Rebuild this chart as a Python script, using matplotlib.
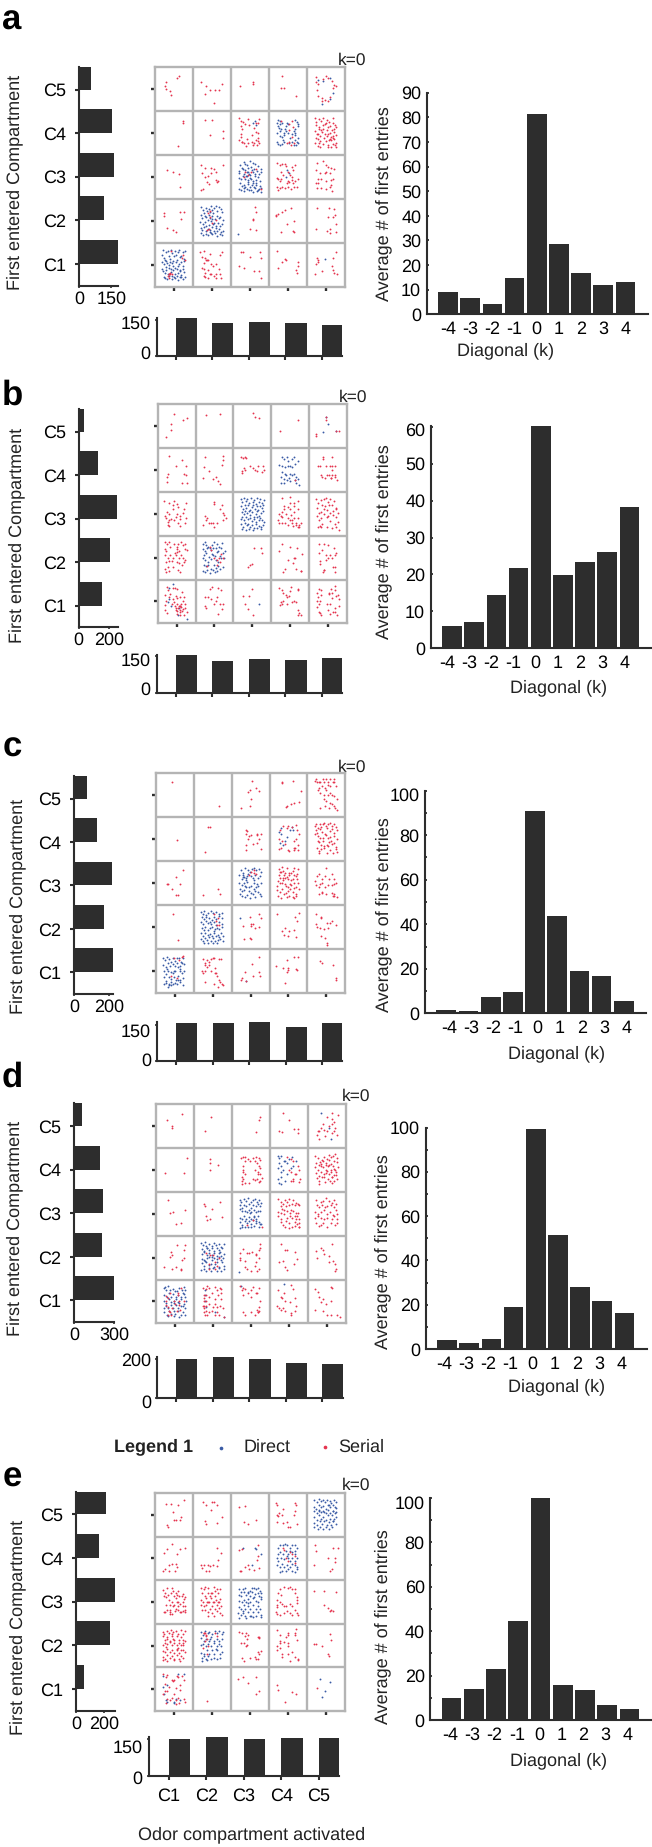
"""Five-panel first-entry figure: row totals, 5x5 entry matrix, column totals, diagonal histogram."""
import matplotlib
matplotlib.use("Agg")
import matplotlib.pyplot as plt
from matplotlib.transforms import ScaledTranslation

plt.rcParams["font.family"] = ["Liberation Sans", "DejaVu Sans"]
plt.rcParams["font.size"] = 13
plt.rcParams["text.hinting"] = "no_hinting"

DARK = "#2d2d2d"
GRID = "#b4b4b4"
RED = "#e5344f"
BLUE = "#3a5ba5"

COMPARTMENTS = ["C1", "C2", "C3", "C4", "C5"]
DIAGONALS = [-4, -3, -2, -1, 0, 1, 2, 3, 4]

# row totals, C1 to C5
ROW_A = [183, 117, 164, 153, 56]
ROW_B = [155, 207, 252, 124, 33]
ROW_C = [221, 171, 219, 133, 76]
ROW_D = [298, 212, 218, 198, 62]
ROW_E = [60, 243, 279, 162, 214]

# column totals, C1 to C5
COL_A = [155, 135, 141, 136, 128]
COL_B = [155, 132, 140, 133, 143]
COL_C = [157, 157, 163, 143, 158]
COL_D = [197, 207, 197, 179, 175]
COL_E = [150, 158, 147, 151, 151]

# average first entries per diagonal
DIAG_A = [9.2, 6.8, 4.3, 14.9, 81.2, 28.6, 16.6, 11.8, 13.3]
DIAG_B = [6.0, 7.1, 14.4, 21.7, 60.2, 19.9, 23.5, 26.2, 38.2]
DIAG_C = [1.3, 1.2, 7.2, 9.7, 90.9, 43.9, 19.2, 16.9, 5.5]
DIAG_D = [4.1, 2.7, 4.5, 18.8, 99.2, 51.3, 28.0, 21.7, 16.2]
DIAG_E = [10.0, 14.1, 22.9, 44.5, 100.0, 15.6, 13.4, 6.6, 5.1]

# matrix points: rows C5 to C1, columns C1 to C5; each code is xxyy in percent of the cell
A_SERIAL = [
    ["6380 5876 2966 2657 2749 3845 4236", "2166 3556 4548 5747 6947 7761 3039 5519", "2356 5766 5761", "3479 3252 3952 7134",
     "2378 5180 5674 6668 7160 7657 3062 2848 3035 4122 4824 5522 6132 7052 2465 4472 4030"],
    ["7277 7473 5920", "3080 5080 4546 8039 8054",
     "2283 2677 3174 3771 4481 2566 3058 2541 2233 2547 3029 4021 4526 5529 6127 6533 7031 7527 7039 6551 7049 6061 5546 6572 7382 7073 4869 3526 2829 5823 6823 4236",
     "3277 5470 6176 6463 5456 6040 5330 4726 6528 5722",
     "2183 2474 3381 3776 4483 4771 5379 5874 2368 3163 3757 4469 5173 6266 7083 7469 2154 2747 3642 4151 5357 5763 6249 6944 7259 7846 2538 2936 3531 4639 5243 5834 6441 7136 7628 2226 2921 3419 4324 5131 5723 6333 6924 7422 7819 6656 7351 4358 5648 6972 7763 3358 4947 6037 7038 3127 5519 6418 3048"],
    ["3066 4660 6256 6427", "2076 3070 4770 5568 5960 7876 2458 3050 4052 4858 6042 3638 4234 6338 6640 2021 2722",
     "3862 4555 5262 6568 3350 7822",
     "2082 2878 3480 4280 4474 5060 6072 6466 7076 3262 3654 2248 2544 2840 3346 4836 5040 5438 6042 6435 7040 7644 2228 3025 3428 4225 5028 5822 6628 7426 2420 6250 5655",
     "2882 4486 5076 5672 6470 2566 3658 5060 6258 7268 3046 2535 3035 5040 6442 7045 2825 3825 5022 6228 6718 6432 4858 3844"],
    ["2467 2461 6471 7570 6954 3034 4830 5425", "4472 4068 4558 5045 6052 4232 3628", "6481 6571 5755 5952 4932 6530",
     "1863 2565 3470 4375 5980 6650 4743 3125 6426 6624 1960", "2780 5880 7276 7463 6859 5559 2532 7843 7825 6022 5426 6232"],
    ["3530 3832 4028 3325 4328 3728 3620 7860 4282 7272 7065",
     "1980 2882 4474 7072 7580 2268 3065 3660 4060 2855 3560 4652 5248 6052 2242 2840 4038 4428 4830 6030 6840 7030 7420 3032 3820 2825 3022 5625 6020",
     "2680 3179 5168 7679 8066 2146 3442 6135 7535 8020", "2082 4364 3456 4660 7656 7648 2442 7331 7139",
     "2766 2956 2552 6966 7880 6748 6939 7131 8029 4136 2229 3060"],
]
A_DIRECT = [
    ["", "", "", "", "3070 4368 6275 7040 6028 4116"],
    ["", "", "5972 6378 6667",
     "2480 2876 2172 3070 2565 3360 2855 2250 2844 3440 4050 4555 4360 4950 3945 2525 2230 2822 3525 4030 3833 6880 7575 7866 6860 6048 6755 7050 7738 7828 7222 6722 7530 6835 5538 5328 4872 5070 4565 3573 2662 7045 7870 6030", ""],
    ["", "",
     "2477 3169 3584 4176 4471 4986 5273 5781 6169 6479 7274 7868 2063 2259 2971 3357 3866 4362 4757 5566 5961 6457 6963 7557 7961 2148 2744 3151 3646 4153 4639 5246 5841 6252 6743 7149 7741 2336 2829 3432 3827 4434 4926 5631 6027 6536 7121 7629 8024 2222 2619 3517 4223 4719 5321 5916 6324 6818 7322 7816 3779 4561 5155 5048 3952 4443 5736 6631 3325",
     "4765 5258 4550", ""],
    ["",
     "2081 2574 2968 3379 3772 4277 4683 5174 5579 5983 6472 6881 7376 7769 2164 2457 3162 3558 4163 4456 4961 5367 5853 6361 6756 7258 7851 1947 2643 3048 3439 3852 4341 4749 5243 5646 6138 6544 7139 7642 2133 2429 2935 3326 3931 4424 4936 5427 6033 6426 6931 7324 7827 2023 2718 3321 4017 4622 5119 5823 6416 7121 7617 4570 5055 4528",
     "1920", "", ""],
    ["1972 2183 2466 2778 2959 3381 3671 3963 4184 4476 4658 4969 5282 5473 5761 6078 6384 6567 6871 7279 7663 7882 1857 2251 2561 2844 3153 3549 3857 4241 4553 4847 5143 5556 5948 6252 6639 6956 7347 7759 1941 2136 2532 2939 3329 3743 4133 4424 4837 5228 5641 6031 6436 6827 7241 7634 7921 2223 2619 3217 3725 4418 4922 5319 5724 6116 6521 6923 7418",
     "", "", "", "4862"],
]

B_SERIAL = [
    ["4277 7768 6865 3656 3442 2325", "2776 6478", "5380 5870 6969", "7065 2440", "4465 2033 1927 7240 8040 4470"],
    ["3081 6373 7460 4859 2740 2435 7040 7438 2423 6421 7721", "2479 7281 7473 2256 7061 1932 3647 4530 5535 6419 5924",
     "2180 2578 3080 3378 2448 2854 3150 2244 4360 5255 5850 6660 7858 8050 7645 6448", "6428",
     "3680 3775 6280 3058 2358 4660 5760 6258 7060 6050 3238 3535 4232 4838 5238 5932 6038 6838 7528 7035 5832"],
    ["1680 3175 4070 4480 5072 5565 7475 7062 2455 3050 4062 5250 6045 6852 2240 3035 4235 4842 6038 7440 7228 3022 2825 1845 5528 6022 2832 3538",
     "4878 5072 7070 6562 2545 3040 2735 7452 7648 8240 7436 3530 4530 4030 5020 5830 2025", "",
     "2885 5088 6075 7080 5075 3568 4565 5060 6068 7260 3055 3560 4050 2150 2545 1935 2030 2830 3830 4540 5035 5535 6040 6530 7240 7830 7525 5530 5822 6525 7020 7520 4525 2842 6055 5248",
     "2083 2474 3281 3569 2263 4183 4486 5176 5684 6271 6779 7164 3254 3961 4367 4958 5371 7261 7851 2144 2736 3341 4149 4943 5652 6447 7243 7831 3023 2519 3427 4921 5733 6826 7321 8014 6217 3219 2852 5144 6356"],
    ["1885 2480 3085 3375 1870 2365 4280 5275 5580 6285 6878 7282 5070 5765 4560 5062 7370 7868 2055 2750 3255 4050 4855 5750 6255 2240 3042 3842 5040 7245 2025 2828 3020 5322 6018 4028 2218 7040 6532 6850 5738",
     "3875 4268 4950 5645 6250 6858 7250 6440 5832 3030", "5573 7473 7660 5035 3929 4334",
     "2980 5074 6973 8358 2265 4645 6450 5938 3118 3625 6525 7820 8020 6050",
     "2880 4180 5078 6672 7360 3568 4655 2760 5555 7055 3042 4545 5048 3035 3818 4022 6528 7018 4022 7028 6248"],
    ["2482 2875 4080 4680 5278 6572 7060 2065 3060 3268 4055 4862 5258 5860 6652 7245 2042 2250 3845 4248 4640 5245 5840 6238 6832 7235 7825 4830 5228 5825 6428 7020 2030 5022 5818 2424 6040 6245 5435 5640 6030 4835",
     "3878 4482 6080 6875 2460 3361 4055 5450 5660 2540 2935 4845 6545 7032 7245 6022", "2663 4163 5079 3144 4033 5120",
     "2180 2975 3170 3965 4260 5174 5282 7078 7075 4862 3152 2342 2548 3045 4345 6050 5548 7030 7523 7218 8018 6548",
     "2878 2270 3175 3165 2560 2252 3050 2845 2238 2625 2923 3318 4845 5268 5270 5878 6058 5545 6270 7075 7665 8055 7262 7085 6835 6425 7025 7518 8040 5030 5522"],
]
B_DIRECT = [
    ["", "", "", "", "4470 5154 3836 7340"],
    ["", "", "",
     "2880 3574 4180 4670 5574 6080 7170 2262 3060 3656 4460 5060 5656 6264 2845 3640 2635 3330 4038 4732 5040 5538 6042 6535 7030 2620 3420 4228 5026 6228 6720 7515", ""],
    ["", "",
     "2084 2477 2986 3379 3683 4274 4687 5176 5482 5973 6385 6778 7183 7674 8081 2168 2562 3071 3463 3969 4458 4966 5371 5761 6267 6659 7068 7563 7971 2254 2749 3157 3551 4156 4547 5054 5643 6149 6457 6946 7452 7856 2039 2443 2936 3342 3837 4441 4934 5439 5931 6343 6735 7141 7636 8032 2127 2621 3129 3524 4027 4519 5025 5518 6126 6417 6923 7419 7825 2316 3314 4215 5314 7215",
     "", ""],
    ["",
     "1982 2486 2879 3374 3871 4478 5085 5681 6274 7083 2169 2664 3173 4067 4771 5473 5964 6772 7766 2357 2961 3751 4359 5154 5762 6453 7261 2048 2644 3341 4046 4756 5444 6041 6849 7548 2233 2831 3433 4124 4833 5426 6031 6624 7229 1919 2516 3121 3814 4521 5117 5819",
     "", "", ""],
    ["3080 4090 3055 2848 3540 5635 5418 7810", "", "6943", "", ""],
]

C_SERIAL = [
    ["4180", "6525", "5481 4860 4456 6366 7258 5240 4924 2520", "3378 3376 6281 8359 4525 4322 5630 6632 7733",
     "2082 2578 2485 3080 3578 4185 4580 5085 5580 6085 6878 7285 7078 7670 3065 4070 4665 5060 5572 6070 2860 3555 4550 5550 6055 6650 7248 7840 4540 5035 6032 6628 7025 7420 7815 4825 3520 5820"],
    ["5648", "3677 4276 2921", "3970 4167 3862 4450 6860 7862 6658 7350 3935 6640 7826 3724 5538 5058 4656",
     "2770 3580 4575 5080 6078 7082 7470 7860 7050 6545 7536 6830 6530 7525 2650 3345 4038 3030 2528 4825 5222 6525",
     "2079 2483 2975 3384 3778 4183 4586 5079 5584 6086 6579 7183 7777 2271 2664 3473 3966 4862 5274 5968 6573 7264 7871 2061 2956 3453 4152 4958 5451 6054 7156 7849 3043 3637 4433 5236 5842 6539 7141 7631 2529 3123 3726 4429 5117 6024 6819 7526 7821 3018 5534 4146 6346 2845"],
    ["2847 3247 7179 5263 6347 4137 5223 5823", "2323 6437 6924", "5275 4568 6080 6570 6072",
     "2481 2976 3386 3678 4583 5273 6177 6484 7581 2567 3174 3662 4172 4664 5269 5873 6569 7471 2254 2861 3557 4261 4959 5656 6259 7166 7549 2044 2749 3351 4148 4443 5041 5846 6449 7041 7837 2134 2829 3436 4427 4933 5536 6229 6926 7121 2321 3016 3824 4519 5221 6119 6516 3967 5548 6638 7258",
     "2665 3070 3860 2055 4865 5085 5860 6570 7060 7550 2245 3040 3548 4050 4840 5545 6545 7248 3025 4028 5025 6528 7025 7818 7020 6820 4030"],
    ["4580 5820", "5280 5865 6470 6555 6055", "4872 7280 7870 2952 5052 5756 7150 6148 3324 5022 4725 5058",
     "2180 7782 6872 7465 4248 3442 3832 4830 5242 7028 6444", "2380 3774 3770 5160 6060 7655 2650 3348 4545 5547 6564 3730 4725 5215 5210 2258"],
    ["4880 6882 7285 6075 5535 4040",
     "2378 2968 3575 4072 4678 5280 5080 6578 7278 2865 3460 4065 5558 2050 3050 2545 4550 5545 6240 6530 7025 7818 3025 5222 6415 7420 5845",
     "7382 5366 3549 2735 2530 3827 5739 7349 7439", "1662 4575 6482 7682 3557 4957 4648 7253 6956 4124 5052", "3574 4069 6864 7635 7630"],
]
C_DIRECT = [
    ["", "", "", "", ""],
    ["", "", "", "2565 3075 5370 4555 2840 3535 4045 3060 6078 6270", ""],
    ["", "",
     "2479 3073 3168 3584 4279 4874 5481 6083 6579 7282 7774 2067 2659 3264 3861 4471 5066 5661 6269 7061 7566 2051 2746 3349 3544 4541 5244 5851 6441 7044 7751 2136 2831 3334 3941 4531 5127 5836 6231 7029 7526 2126 2821 3419 4123 4816 5524 6219 7821 4066 3856 2964 4152 5956 6847",
     "", ""],
    ["",
     "1984 2379 2786 3277 3883 4586 5181 5884 6579 7381 2073 2669 3374 4071 4766 5273 5969 6676 7471 1961 2457 3163 3759 4556 5261 5954 6561 7356 2047 2644 3051 3644 4249 4851 5546 6047 6746 7351 1936 2431 3037 3633 4134 4729 5336 5931 6433 7137 7631 1924 2319 2926 3421 3927 4419 5026 5619 6321 7024 7619 2714 3814 5014 6014 4362 5241 6628",
     "2170", "", ""],
    ["1981 2476 2983 3477 3871 4381 4973 5479 6081 6571 7179 1964 2559 3069 3763 4366 5061 5569 6263 6869 7466 2051 2644 3151 3849 4446 5051 5759 6251 6846 7451 2136 2729 3337 3933 4636 5231 5739 6431 7034 2021 2524 3321 3926 4521 5024 5621 6226 7019 4019 3214 4851 2854 6454 3419 5831",
     "", "3927", "", ""],
]

D_SERIAL = [
    ["2865 6778 4250 4145", "4570 2838", "7370 7165 6436", "3480 4965 2439 3137 6344 7544 7535",
     "2330 3038 2840 3545 4055 4442 5040 5750 6355 6840 7345 7060 6567 5070 6580 8075 4628 3020 6535 7830"],
    ["8077 2344 7243", "4175 4165 6461 4149",
     "2478 3080 3580 4275 4870 5578 6380 7078 7572 2860 3570 6070 6565 7260 7555 3050 2845 3540 6050 6845 7540 7832 2535 3030 2525 2618 3520 4520 5530 6530 7022 7525 6028 6840",
     "4680 5575 6070 5050 5545 6025 6540 7040 6030 7822 5525 7560 7850 8030",
     "2081 2777 3873 4479 5176 5684 6179 6681 7186 7877 2267 2961 3564 4171 4861 5573 6264 6971 7669 2056 2749 3459 4156 4751 5459 6051 6759 7351 7956 2244 2937 3646 4241 4944 5641 6246 6939 7546 2431 3024 3833 4523 5229 5826 6433 7026 7829 6521 3017 3369 4766 5762 6853 7439 5148 6334 4335"],
    ["3081 3751 4453 7659 5226 6430", "2773 2868 6777 3046 4860 4237 7343 3536", "7820 4025 5535",
     "2083 3077 4081 4576 5083 6081 7074 2867 3573 4267 5071 5873 6569 7473 7771 2054 3051 3859 4556 5251 6056 6851 7451 2044 3039 3849 4541 5246 5841 6646 7246 7839 2831 3524 4333 5029 5821 6531 7226 7829 4021 5017 6523 7619 7821 3362 5659 6839",
     "2282 3578 4180 4885 5580 6575 7082 2570 3065 3870 4565 5068 6070 6865 7572 2055 2650 3555 4258 5050 5855 6648 7458 7850 2040 2845 3540 4238 5040 6338 7045 7838 2228 2922 3525 4030 5020 6028 7225 7630"],
    ["5479 7678 7468 4062 4256 3752 6945 5128 2128 4224 6524 6522 7248", "3060 4255 5055 5540 6548 3835 6030 4025 5525",
     "2870 3960 4560 5262 6258 7068 7380 7572 2260 2048 3342 6240 6355 6520 3528 5020 6030 7025 2145 4025 7050",
     "3080 3968 4667 6662 2541 3543 3928 4421 7247 6336", "2165 3671 4259 6580 5653 6743 7335 7524 7120 2349 5640 4068"],
    ["2562 3258 2642 3038 3525 3428 4235 4020 4850 5045 5670 5865 6580 6050 7252 6042 6330 5528 2550 3020 3770",
     "2280 3078 3485 4080 4870 5583 6075 6780 7278 7070 2565 3065 2558 2550 3050 4060 5555 6265 7255 2540 2535 3040 4045 4938 5545 6138 6840 7535 2525 3028 3520 4025 4828 5520 6025 6520 8015 2240 2820",
     "2085 3080 2575 3478 4370 5075 5582 6270 6570 7080 3065 5060 7550 7238 6530 7028 6825 3025 3520 5025 6020 6825",
     "2075 3060 5588 3870 6078 3358 4052 5248 6658 7040 1940 2335 3030 3535 4028 5524 6528 5520",
     "2078 2872 6580 6282 4845 6250 3060 4055 2030 3548 4028 6218 7820 5020 8415"],
]
D_DIRECT = [
    ["", "", "", "", "3580 6020 5545"],
    ["", "", "", "2082 2578 3083 3770 2565 3060 2255 4070 2845 3550 2230 3035 2520 3018 4025 4540 5075 4565 5555 6060 5880 7070", ""],
    ["", "",
     "2081 2477 3184 3879 4286 4977 5481 6083 6677 7181 7774 2069 2664 3271 3867 4473 5064 5671 6267 6873 7367 2061 2756 3357 3953 4559 5153 5759 6353 6956 7556 2041 2639 3244 3839 4543 5139 5746 6339 6946 2131 2724 3333 3929 4534 5127 5636 6229 7031 7527 2017 2719 3521 4319 5019 5823 7021 7626 4751 5943 6234",
     "", ""],
    ["",
     "1984 2379 2986 3277 4081 4677 5283 5879 6581 7274 7881 2069 2566 3371 4067 4673 5266 6071 6667 7471 2059 2763 3356 4061 4651 5361 6053 6661 7253 7859 2047 2644 3449 4051 4644 5249 6046 6651 7244 7649 2037 2631 3239 3833 4536 5229 5939 6629 7339 7831 1921 2524 3219 3826 4519 5126 5919 6626 7219 7823 3571 4757 5436 2842 6963",
     "1818", "", ""],
    ["2081 2677 3286 3777 4379 5073 5574 6081 6777 7283 7776 2164 2761 3369 4059 4566 5259 5864 6461 7169 7759 2051 2646 3356 3949 4646 5156 5849 6556 7244 7851 2036 2639 3136 3841 4536 5141 5736 6439 7039 7736 2126 2719 3329 3921 4627 5021 5829 6419 7026 7719 3017 4717 6014 2484 4752 6147 7366",
     "2875 2865 2852 3238 5525 7815", "2485", "3690", ""],
]

E_SERIAL = [
    ["2975 4175 5972 7683 4856 6538 6946 5537 4937 3226 3322", "2680 3572 5079 6272 5579 4860 7745 3530 6432 3035", "2168 3871 3334 4530 6737",
     "1878 2072 6878 7172 3863 2050 2447 7059 6649 2234 3632 4834 5623 7430 5023 3450 2755", ""],
    ["2263 3171 4582 5761 6471 7974 2526 3634 4538 5538 5730 3621 5321 2021", "6275 7363 2034 2228 2936 3834 4532 6233 6647 5335 3420 4120",
     "2170 7280 7055 4534 2420 4826 6123 7327 2622 3630 6947 3071", "3875 4070 5565 6060 6855 7040 4550 5045", "2280 2568 8175 6975 5552 7450 7442 1934 6022 6626"],
    ["2077 2571 3083 4581 4876 5571 6076 7269 7861 2264 2861 3554 4271 5063 5559 6263 7251 7556 7841 4044 4551 5043 6049 6546 7441 7831 2227 3031 3826 4523 5229 5534 6031 6826 7229 7826 4841 5651 6041 2526 3823 4031 6526 3366 5867 2942 7163",
     "2081 2879 3084 4081 4871 5584 6279 7079 2471 3264 3871 4463 5071 5863 6571 2054 2751 3359 4051 4859 5349 6054 6651 7256 2044 2841 3543 4249 4941 5651 6243 6849 7341 2231 3031 3826 4533 5024 5833 6429 7024 7521 4017 5519 3649 5776 6836",
     "", "3080 4085 5082 5585 6080 6880 2570 3265 7070 2055 2850 7562 7555 2042 2238 7548 1928 2022 3545 4040 4540 5545 6040 4830 5525 6020 7525 7820 4025 3020 6832",
     "2075 4675 7672 4642 5537 6029 7029 6531"],
    ["2081 2477 3184 3779 4286 4881 5484 6077 6786 7276 7883 2071 2663 3269 3861 4471 5063 5671 6263 6869 7363 7861 2051 2656 3253 3859 4451 5056 5651 6256 6851 7451 2037 2636 3243 3836 4441 5034 5643 6234 6841 7439 7836 2024 2619 3229 3821 4426 5019 5629 6219 6826 7421 2017 3215 4917 6615 3064 4576 5839 2947 4765 6044 7355",
     "2878 3472 3080 3475 3765 2545 2880 3260 5780 6272 4048 3730",
     "2082 2878 3672 4078 4265 4575 2555 3555 4050 4252 7368 7070 7570 3022 3515 5022 7020 7530 7838 7035 6620 6225",
     "2085 3075 4570 5080 5075 6875 7288 7080 7562 2050 2860 4058 3055 3045 3525 3530 5050 5055 5030 6035 7025 7818 7820 5515 2040",
     "1853 2553 3950 6076 6562 5630 5926"],
    ["2085 3082 2878 5880 6078 7080 7572 4572 5072 2562 3556 4868 5552 2040 2645 3045 5040 6560 6448 4530 3028 5525 6030 7528 7820 3825 2818 5515 6218",
     "3722", "1973 3177 4565 6779 7445 6740", "2160 2448 6044 7140 4321", "2752"],
]
E_DIRECT = [
    ["", "", "", "",
     "2083 2679 3286 3781 4384 4979 5483 6081 6577 7184 7779 2067 2464 3173 3769 4371 5064 5673 6267 6873 7469 7866 2059 2653 3259 3856 4459 5053 5661 6253 6859 7453 7856 2044 2639 3249 3841 4446 5039 5549 6141 6749 7341 7846 2031 2627 3436 4029 4636 5227 5833 6427 7036 7829 2021 2917 3621 4317 5121 5917 6621 3262 4657 5872 7058 6836"],
    ["", "", "3175 6375 8060 5435 6572",
     "2375 3080 3680 4282 4880 5575 6180 7080 7575 2560 3065 3860 4568 5060 5568 6265 7068 7060 2050 2545 3350 4048 4755 5050 5545 6250 6845 7550 2235 2830 3538 4130 4835 5530 6238 7035 7530 2818 3520 4420 5025 6020 7018 7525", ""],
    ["", "",
     "2079 2573 3279 3781 4573 5076 5583 6081 6779 7281 7776 7971 2167 2764 3373 3966 4571 5064 5673 6269 7071 7564 7861 2053 2849 3354 3949 4556 5149 5859 6553 7251 7856 2039 2734 3343 3834 4641 5134 5943 6534 7041 7733 1924 2521 3229 3819 4527 5219 5926 6519 7127 7821 7916 2014 4917 5816 4014 4647 6161 3124",
     "", ""],
    ["",
     "2081 2574 3283 3879 4381 5076 5783 6279 6883 7576 7881 2067 2861 3566 4261 4869 5561 6266 6861 7564 2051 2754 3449 4054 4849 5556 6249 6854 7449 2134 2931 3639 4231 4939 5531 6239 7031 7536 2221 2826 3419 4026 4719 5521 6219 7021 2414 3617 4466 5942",
     "", "", ""],
    ["2080 6085 7585 3060 2055 2240 5528 3020 2825 6525 5020 4918", "", "", "", "3573 6267 4945 4132"],
]

W, H = 652, 1847

# layout in reference pixels
PANELS = [
    dict(letter="a", letter_xy=(2, 30), row=ROW_A, row_tick=150, row_box=(79, 67, 118.3, 285.7), row_xmax=183,
         serial=A_SERIAL, direct=A_DIRECT, grid_box=(155.3, 67, 344.7, 286.7), k_xy=(351.7, 60.7),
         col=COL_A, col_tick=150, col_box=(156.7, 318.3, 342, 356), col_ymax=155, col_dy=(4, -2.5),
         diag=DIAG_A, diag_box=(426.7, 92.7, 647.7, 314.3), diag_ymax=90, diag_ticks=range(0, 91, 10), minor=[], top_dy=0, label_dx=0,
         row_label=(15, 182.8), diag_label=(384, 204), k_label=(506, 351)),
    dict(letter="b", letter_xy=(2, 405), row=ROW_B, row_tick=200, row_box=(78.7, 409, 117.7, 627.3), row_xmax=254,
         serial=B_SERIAL, direct=B_DIRECT, grid_box=(157.7, 404.3, 346.7, 623.3), k_xy=(353, 397.3),
         col=COL_B, col_tick=150, col_box=(156.7, 655, 342, 692.7), col_ymax=155, col_dy=(4.4, -3),
         diag=DIAG_B, diag_box=(430.7, 426, 651.7, 648.3), diag_ymax=60.2, diag_ticks=range(0, 61, 10), minor=[], top_dy=-3, label_dx=-5,
         row_label=(16.7, 535.7), diag_label=(384, 541.7), k_label=(559, 688)),
    dict(letter="c", letter_xy=(3, 757), row=ROW_C, row_tick=200, row_box=(74, 776, 112.7, 994), row_xmax=222,
         serial=C_SERIAL, direct=C_DIRECT, grid_box=(156.3, 772.7, 345, 993.3), k_xy=(351.7, 767.7),
         col=COL_C, col_tick=150, col_box=(157.3, 1021.7, 342, 1060.7), col_ymax=164, col_dy=(1.7, -5),
         diag=DIAG_C, diag_box=(425, 790.7, 646, 1013.3), diag_ymax=100, diag_ticks=range(0, 101, 20), minor=[10, 30, 50, 70, 90], top_dy=-4, label_dx=2.7,
         row_label=(17.3, 906.7), diag_label=(384, 914.7), k_label=(556.7, 1054)),
    dict(letter="d", letter_xy=(2, 1086.7), row=ROW_D, row_tick=300, row_box=(74, 1103.3, 114, 1322.3), row_xmax=300,
         serial=D_SERIAL, direct=D_DIRECT, grid_box=(156.3, 1104.3, 345.7, 1323.3), k_xy=(355.7, 1096.7),
         col=COL_D, col_tick=200, col_box=(157.3, 1357.3, 342.5, 1398.3), col_ymax=207, col_dy=(-3.4, -1),
         diag=DIAG_D, diag_box=(425.7, 1127.5, 646.7, 1349), diag_ymax=100, diag_ticks=range(0, 101, 20), minor=[10, 30, 50, 70, 90], top_dy=0, label_dx=-3,
         row_label=(15, 1228.3), diag_label=(383, 1251.7), k_label=(556.7, 1387)),
    dict(letter="e", letter_xy=(3, 1487), row=ROW_E, row_tick=200, row_box=(76, 1491.7, 115, 1710.7), row_xmax=279,
         serial=E_SERIAL, direct=E_DIRECT, grid_box=(155.3, 1493, 344.7, 1711), k_xy=(355.7, 1485.7),
         col=COL_E, col_tick=150, col_box=(149, 1736.7, 339.5, 1775.7), col_ymax=158, col_dy=(-2, -7.5),
         diag=DIAG_E, diag_box=(430.3, 1498, 651.7, 1720), diag_ymax=100, diag_ticks=range(0, 101, 20), minor=[10, 30, 50, 70, 90], top_dy=-4, label_dx=-1.5,
         row_label=(17.3, 1627.3), diag_label=(383, 1626.7), k_label=(559, 1761)),
]


def place(fig, box):
    left, top, right, bottom = box
    return fig.add_axes([left / W, 1 - bottom / H, (right - left) / W, (bottom - top) / H])


def parse_cell(codes):
    pairs = [(int(c[:2]), int(c[2:])) for c in codes.split()]
    return [p[0] / 100 for p in pairs], [p[1] / 100 for p in pairs]


def shift_labels(fig, labels, dys):
    # tick labels sit a little off their ticks in the original artwork
    for lab, dy in zip(labels, dys):
        lab.set_transform(lab.get_transform() + ScaledTranslation(0, dy / 100, fig.dpi_scale_trans))


def style_axes(ax):
    ax.patch.set_alpha(0)
    ax.spines[["top", "right"]].set_visible(False)
    ax.spines[["left", "bottom"]].set_linewidth(1.5)
    ax.spines[["left", "bottom"]].set_color(DARK)


def draw_rows(fig, p):
    ax = place(fig, p["row_box"])
    style_axes(ax)
    ax.barh(range(5), p["row"], height=0.55, align="edge", color=DARK, linewidth=0)
    ax.set_ylim(-0.5, 4.52)
    ax.set_xlim(0, p["row_xmax"])
    ax.set_yticks(range(5), COMPARTMENTS)
    ax.set_xticks([0, p["row_tick"]], ["0", str(p["row_tick"])])
    ax.tick_params(axis="y", length=3, width=1.5, color=DARK, pad=6)
    ax.tick_params(axis="x", length=1.5, width=1.2, color=DARK, pad=2)


def draw_grid(fig, p):
    ax = place(fig, p["grid_box"])
    ax.set_xlim(0, 5)
    ax.set_ylim(0, 5)
    ax.vlines([1, 2, 3, 4], 0, 5, color=GRID, linewidth=1.7, zorder=1)
    ax.hlines([1, 2, 3, 4], 0, 5, color=GRID, linewidth=1.7, zorder=1)
    for spine in ax.spines.values():
        spine.set_color(GRID)
        spine.set_linewidth(1.7)
    for r in range(5):
        for c in range(5):
            for codes, color in ((p["direct"][r][c], BLUE), (p["serial"][r][c], RED)):
                xs, ys = parse_cell(codes)
                ax.scatter([c + x for x in xs], [4 - r + y for y in ys], s=1.8, color=color, linewidths=0, zorder=2)
    ax.set_xticks([0.5, 1.5, 2.5, 3.5, 4.5], [])
    ax.set_yticks([0.5, 1.5, 2.5, 3.5, 4.5], [])
    ax.tick_params(length=3, width=1.7, color=DARK)


def draw_cols(fig, p):
    ax = place(fig, p["col_box"])
    style_axes(ax)
    ax.bar(range(5), p["col"], width=0.58, align="edge", color=DARK, linewidth=0)
    ax.set_xlim(-0.52, 4.55)
    ax.set_ylim(0, p["col_ymax"])
    ax.set_xticks(range(5), COMPARTMENTS if p["letter"] == "e" else [])
    ax.set_yticks([0, p["col_tick"]], ["0", str(p["col_tick"])])
    ax.tick_params(axis="x", length=3, width=1.5, color=DARK, pad=6)
    ax.tick_params(axis="y", length=1.5, width=1.2, color=DARK, pad=3)
    shift_labels(fig, ax.get_yticklabels(), p["col_dy"])


def draw_diag(fig, p):
    ax = place(fig, p["diag_box"])
    style_axes(ax)
    ax.bar(DIAGONALS, p["diag"], width=0.887, color=DARK, linewidth=0)
    ax.set_xlim(-4.96, 5)
    ax.set_ylim(0, p["diag_ymax"])
    ax.set_xticks([k + p["label_dx"] / 22.2 for k in DIAGONALS], [str(k) for k in DIAGONALS])
    ticks = list(p["diag_ticks"])
    ax.set_yticks(ticks, [str(t) for t in ticks])
    if p["minor"]:
        ax.set_yticks(p["minor"], minor=True)
    ax.tick_params(axis="x", length=0, pad=5)
    ax.tick_params(axis="y", which="both", direction="in", length=1.5, width=1.3, color=DARK, pad=4)
    shift_labels(fig, ax.get_yticklabels()[-1:], [p["top_dy"]])


fig = plt.figure(figsize=(W / 100, H / 100), dpi=100, facecolor="white")
page = fig.add_axes([0, 0, 1, 1])
page.set_xlim(0, W)
page.set_ylim(H, 0)
page.axis("off")

for p in PANELS:
    draw_rows(fig, p)
    draw_grid(fig, p)
    draw_cols(fig, p)
    draw_diag(fig, p)
    page.text(*p["letter_xy"], p["letter"], fontsize=25, fontweight="bold", va="baseline", color="black")
    page.text(*p["k_xy"], "k=0", ha="center", va="center", fontsize=12.5, color="#222222")
    page.text(*p["row_label"], "First entered Compartment", rotation=90, ha="center", va="center", color="#222222")
    page.text(*p["diag_label"], "Average # of first entries", rotation=90, ha="center", va="center", color="#222222")
    page.text(*p["k_label"], "Diagonal (k)", ha="center", va="center", color="#222222")

page.text(153.3, 1447, "Legend 1", fontweight="bold", ha="center", va="center", color="#222222")
page.scatter([221], [1448], s=7, color=BLUE, linewidths=0)
page.text(266.7, 1447, "Direct", ha="center", va="center", color="#222222")
page.scatter([325], [1446.7], s=7, color=RED, linewidths=0)
page.text(361, 1447, "Serial", ha="center", va="center", color="#222222")
page.text(251.7, 1835, "Odor compartment activated", ha="center", va="center", color="#222222")

fig.savefig("out.png", dpi=100)
